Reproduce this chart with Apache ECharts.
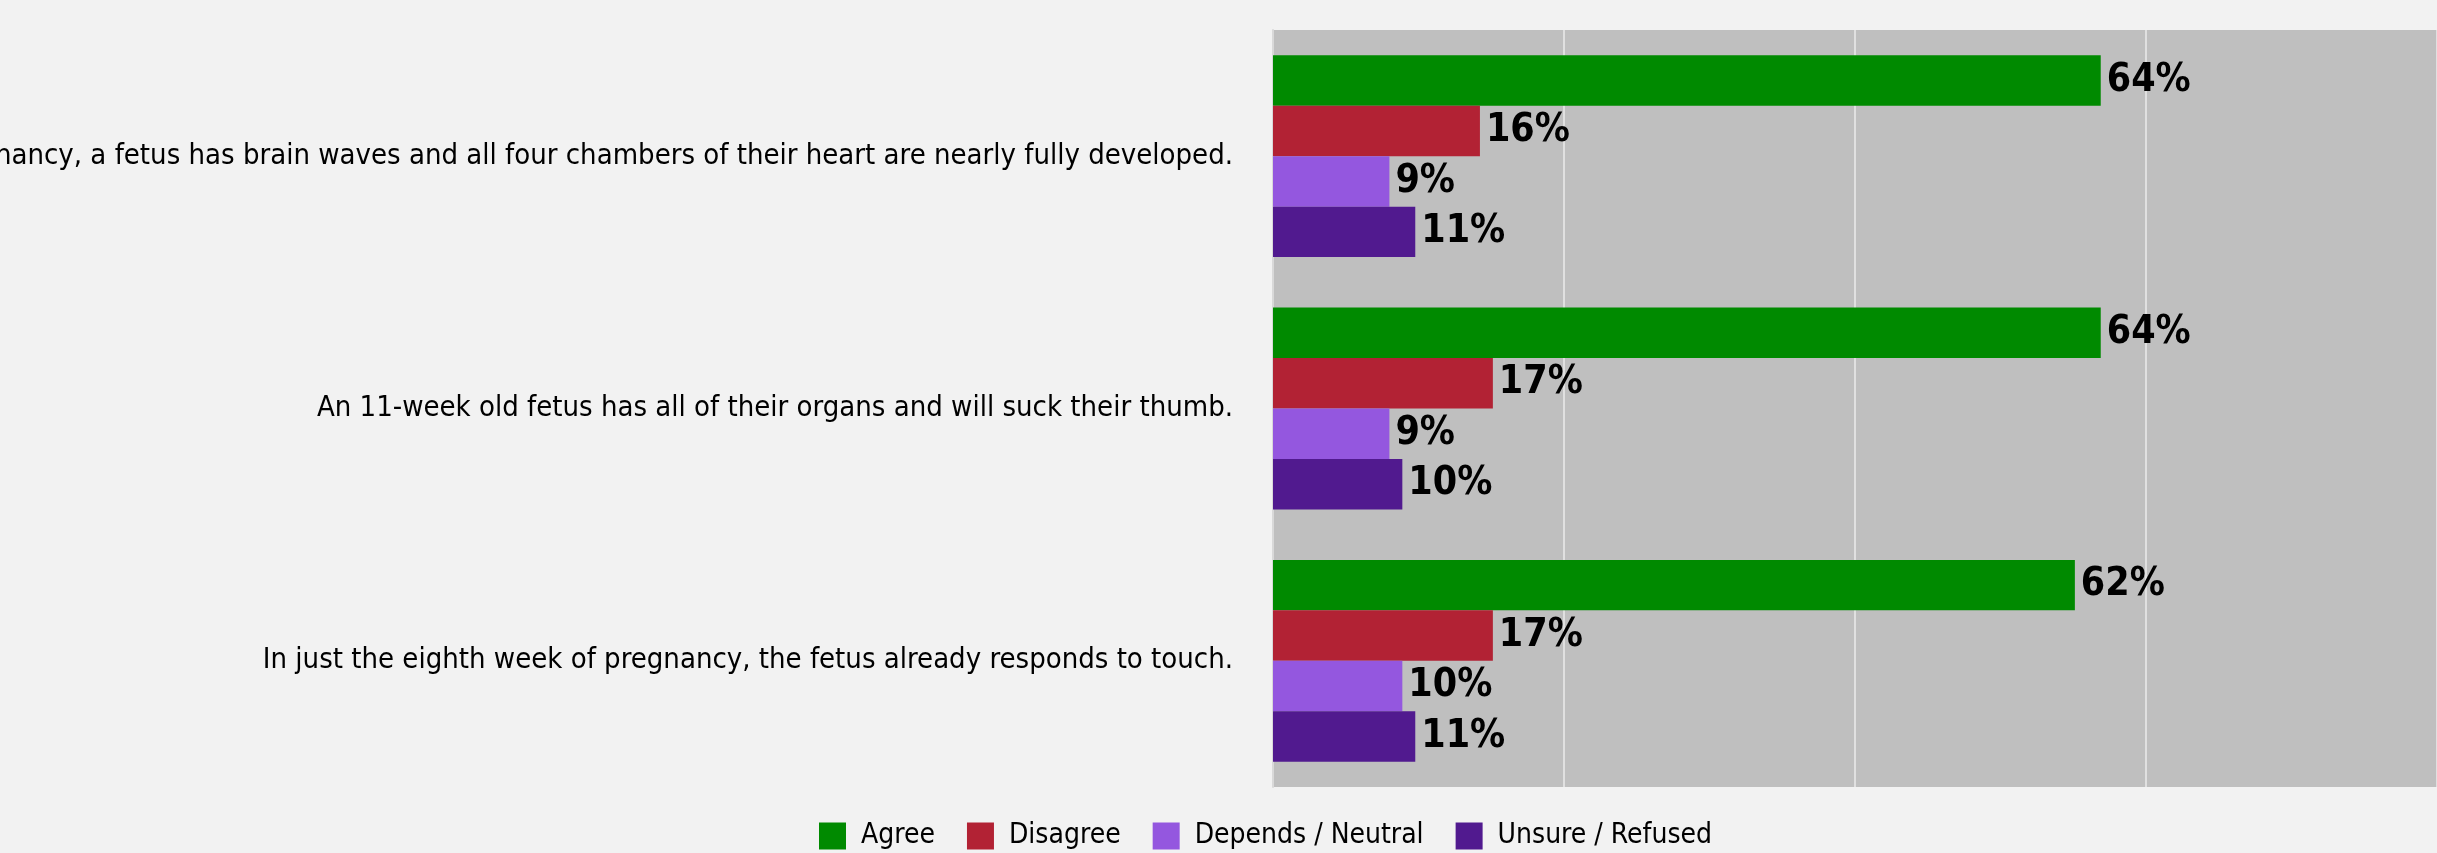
<!DOCTYPE html>
<html>
<head>
<meta charset="utf-8">
<title>Fetal development statements</title>
<script src="https://cdn.jsdelivr.net/npm/echarts@6/dist/echarts.min.js"></script>
<style>
    html, body {
        margin: 0;
        padding: 0;
        background: #f2f2f2;
    }
    .chart {
        width: 2437px;
        height: 853px;
    }
</style>
</head>
<body>
<div class="chart"></div>
<script>
// statements (top to bottom)
var statements = [
    'By the sixth week of pregnancy, a fetus has brain waves and all four chambers of their heart are nearly fully developed.',
    'An 11-week old fetus has all of their organs and will suck their thumb.',
    'In just the eighth week of pregnancy, the fetus already responds to touch.'
];
var answers = ['Agree', 'Disagree', 'Depends / Neutral', 'Unsure / Refused'];
// percent per answer, one value per statement
var agree = [64, 64, 62];
var disagree = [16, 17, 17];
var neutral = [9, 9, 10];
var unsure = [11, 10, 11];

(function () {
    var myChart = echarts.init(document.querySelector(".chart"));
    var font = 'DejaVu Sans Condensed, DejaVu Sans, sans-serif';
    var colors = ['#008a00', '#b22234', '#9457df', '#511a8f'];
    var values = [agree, disagree, neutral, unsure];

    // 4 series, one per answer
    var series = answers.map(function (name, i) {
        return {
            name: name,
            type: 'bar',
            barGap: '0%',
            barCategoryGap: '20%',
            data: values[i],
            label: {
                show: true,
                position: 'right',
                distance: 6,
                formatter: '{c}%',
                color: '#000',
                fontFamily: font,
                fontWeight: 'bold',
                fontSize: 39
            }
        };
    });

    var option = {
        backgroundColor: '#f2f2f2',
        animation: false,
        color: colors,
        grid: {
            left: 1273,
            right: 0,
            top: 30,
            bottom: 66,
            show: true,
            backgroundColor: '#bfbfbf',
            borderWidth: 0,
            outerBoundsMode: 'none'
        },
        legend: {
            left: 819,
            top: 822,
            padding: 0,
            itemWidth: 27,
            itemHeight: 27,
            itemGap: 32,
            icon: 'rect',
            textStyle: {
                color: '#000',
                fontFamily: font,
                fontSize: 28,
                padding: [0, 0, 0, 10]
            },
            data: answers
        },
        xAxis: {
            type: 'value',
            min: 0,
            max: 90,
            interval: 22.5, // gridlines only, no tick labels
            axisLabel: { show: false },
            axisTick: { show: false },
            axisLine: { show: false },
            splitLine: {
                lineStyle: {
                    color: '#e0e0e0',
                    width: 2
                }
            }
        },
        yAxis: {
            type: 'category',
            inverse: true,
            data: statements,
            axisLine: {
                lineStyle: {
                    color: '#d9d9d9',
                    width: 2
                }
            },
            axisTick: {
                length: 7,
                lineStyle: {
                    color: '#dadada',
                    width: 2
                }
            },
            axisLabel: {
                color: '#000',
                fontFamily: font,
                fontSize: 29,
                margin: 40
            }
        },
        series: series
    };
    myChart.setOption(option);
    window.addEventListener("resize", function () {
        myChart.resize();
    });
})();
</script>
</body>
</html>
